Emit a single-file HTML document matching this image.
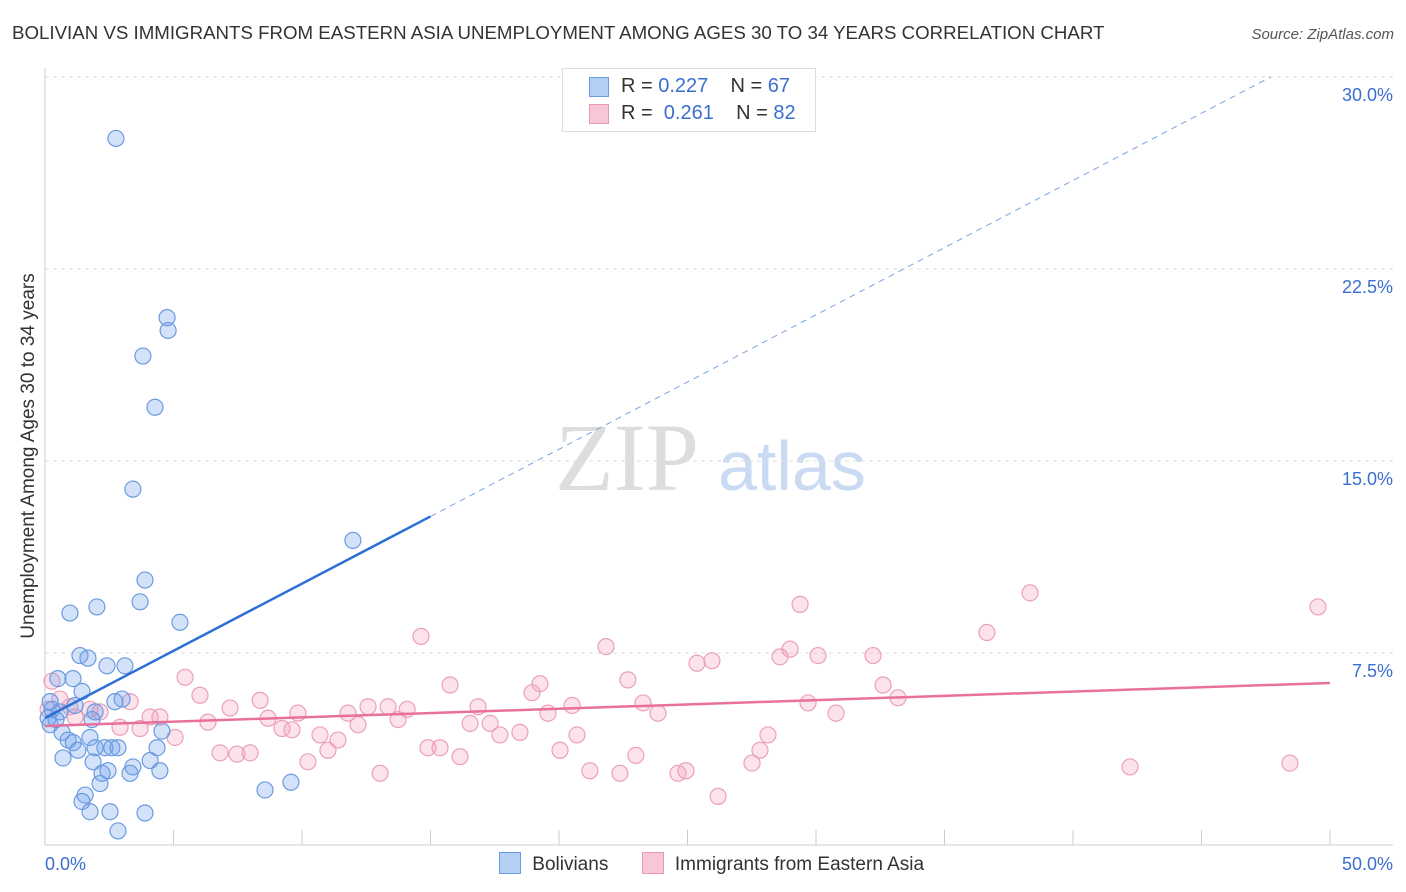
<!DOCTYPE html>
<html><head><meta charset="utf-8">
<style>
body{margin:0;background:#fff;font-family:"Liberation Sans",sans-serif;}
#wrap{position:relative;width:1406px;height:892px;overflow:hidden;}
</style></head>
<body>
<div id="wrap">
<svg id="svg" width="1406" height="892" xmlns="http://www.w3.org/2000/svg">
<text x="12" y="39" font-size="18.7" fill="#333">BOLIVIAN VS IMMIGRANTS FROM EASTERN ASIA UNEMPLOYMENT AMONG AGES 30 TO 34 YEARS CORRELATION CHART</text>
<text x="1394" y="39" font-size="15" fill="#555" font-style="italic" text-anchor="end">Source: ZipAtlas.com</text>
<text x="34" y="456" font-size="19" fill="#333" text-anchor="middle" transform="rotate(-90 34 456)">Unemployment Among Ages 30 to 34 years</text>
<text x="555" y="490" font-size="96" fill="#ddd" font-family="Liberation Serif">ZIP</text>
<text x="718" y="490" font-size="70" fill="#c9daf2">atlas</text>
<g id="grid"></g><g id="marks"></g>
</svg>
<div style="position:absolute;left:562px;top:68px;width:252px;height:62px;border:1px solid #ddd;background:#fff;font-size:20px;color:#333;">
 <div style="position:absolute;left:26px;top:8px;width:18px;height:18px;background:#b5cff5;border:1px solid #6a9be0;"></div>
 <div style="position:absolute;left:58px;top:6px;">R = <span style="color:#3a6fd0">0.227</span>&nbsp;&nbsp;&nbsp; N = <span style="color:#3a6fd0">67</span></div>
 <div style="position:absolute;left:26px;top:35px;width:18px;height:18px;background:#f8c7d6;border:1px solid #e89ab5;"></div>
 <div style="position:absolute;left:58px;top:33px;">R = &nbsp;<span style="color:#3a6fd0">0.261</span>&nbsp;&nbsp;&nbsp; N = <span style="color:#3a6fd0">82</span></div>
</div>
<div style="position:absolute;left:499px;top:852px;font-size:19px;color:#333;">
 <span style="display:inline-block;width:20px;height:20px;background:#b5cff5;border:1px solid #6a9be0;vertical-align:-4px"></span>
 <span style="margin-left:6px">Bolivians</span>
 <span style="display:inline-block;width:20px;height:20px;background:#f8c7d6;border:1px solid #e89ab5;vertical-align:-4px;margin-left:28px"></span>
 <span style="margin-left:6px">Immigrants from Eastern Asia</span>
</div>
</div>
<script>
const yTicks=[7.5,15,22.5,30];
const yTickLabels=["7.5%","15.0%","22.5%","30.0%"];
const xTicks=[0,5,10,15,20,25,30,35,40,45,50];
const blueX=[2.76,4.75,4.79,3.81,4.28,3.42,11.98,3.89,3.70,0.97,2.02,5.25,1.36,1.67,2.41,3.11,0.5,1.09,1.44,3.0,2.72,0.2,1.17,0.27,0.58,1.95,0.12,0.43,1.83,0.2,4.55,0.66,1.75,0.9,1.1,4.36,1.95,2.33,2.6,2.84,1.28,0.7,4.09,1.87,3.42,2.45,4.47,3.31,2.22,2.14,9.57,8.56,1.56,1.44,2.53,1.75,3.89,2.84];
const blueY=[27.6,20.6,20.1,19.1,17.1,13.9,11.9,10.35,9.5,9.06,9.3,8.7,7.4,7.3,7.0,7.0,6.5,6.5,6.0,5.7,5.6,5.6,5.45,5.3,5.2,5.2,4.96,4.9,4.9,4.7,4.45,4.4,4.2,4.1,4.0,3.8,3.8,3.8,3.8,3.8,3.7,3.4,3.3,3.25,3.05,2.9,2.9,2.8,2.8,2.4,2.45,2.15,1.95,1.7,1.3,1.3,1.25,0.55];
const pinkX=[0.27,0.58,0.97,0.12,1.75,2.14,1.17,3.31,4.09,4.47,2.92,3.7,5.06,5.45,6.03,6.34,6.81,7.2,7.47,7.98,8.37,8.68,9.22,9.61,9.84,10.23,10.7,11.01,11.4,11.79,12.18,12.57,13.04,13.35,13.74,14.09,14.63,14.9,15.37,15.76,16.15,16.54,16.85,17.32,17.7,18.48,18.95,19.26,19.57,20.04,20.51,20.7,21.2,21.83,22.37,22.68,22.99,23.27,23.85,24.63,24.94,25.37,25.95,26.19,27.51,27.82,28.13,28.6,28.99,29.38,29.69,30.08,30.78,32.22,32.61,33.19,36.65,38.33,42.22,48.44,49.53];
const pinkY=[6.4,5.7,5.4,5.3,5.3,5.2,5.0,5.6,5.0,5.0,4.6,4.55,4.2,6.55,5.85,4.8,3.6,5.35,3.55,3.6,5.65,4.95,4.55,4.5,5.15,3.25,4.3,3.7,4.1,5.15,4.7,5.4,2.8,5.4,4.9,5.3,8.15,3.8,3.8,6.25,3.45,4.75,5.4,4.75,4.3,4.4,5.95,6.3,5.15,3.7,5.45,4.3,2.9,7.75,2.8,6.45,3.5,5.55,5.15,2.8,2.9,7.1,7.2,1.9,3.2,3.7,4.3,7.35,7.65,9.4,5.55,7.4,5.15,7.4,6.25,5.75,8.3,9.85,3.05,3.2,9.3];
const blueTrend=[4.96,0.525];
const pinkTrend=[4.65,0.0336];
const sx=v=>45+v*25.7, sy=v=>845-v*25.6;
const NS="http://www.w3.org/2000/svg";
function mk(parent,tag,attrs){const e=document.createElementNS(NS,tag);for(const k in attrs)e.setAttribute(k,attrs[k]);parent.appendChild(e);return e;}
const grid=document.getElementById('grid'), marks=document.getElementById('marks');
yTicks.forEach((t,i)=>{
 const l=mk(grid,'line',{x1:45,x2:1393,y1:sy(t),y2:sy(t),stroke:'#ddd','stroke-dasharray':'4 4'});
 
 
 const tx=mk(grid,'text',{x:1393,y:sy(t)+24,'font-size':18,fill:'#3a6fd0','text-anchor':'end'});
 tx.textContent=yTickLabels[i];
 
 
});
const ax=mk(grid,'line',{x1:45,x2:1393,y1:845,y2:845,stroke:'#ccc'});


const ay=mk(grid,'line',{x1:45,x2:45,y1:68,y2:845,stroke:'#ccc'});


xTicks.forEach(t=>{
 const l=mk(grid,'line',{x1:sx(t),x2:sx(t),y1:830,y2:845,stroke:'#ccc'});
 
 
});
[[0,"0.0%",'start',45],[50,"50.0%",'end',1393]].forEach(a=>{
 const tx=mk(grid,'text',{x:a[3],y:870,'font-size':18,fill:'#3a6fd0','text-anchor':a[2]});
 tx.textContent=a[1];
 
 
});
function dots(X,Y,fill,stroke,name){X.forEach((x,i)=>{
 const c=mk(marks,'circle',{cx:sx(x),cy:sy(Y[i]),r:8,fill:fill,stroke:stroke,'stroke-width':1.2});
 
 
});}
dots(pinkX,pinkY,'rgba(244,160,190,0.3)','#eaa0bb','immigrants-point');
dots(blueX,blueY,'rgba(110,160,235,0.3)','#6a9be0','bolivians-point');
const bt=mk(marks,'line',{x1:sx(0),y1:sy(blueTrend[0]),x2:sx(15),y2:sy(blueTrend[0]+15*blueTrend[1]),stroke:'#2c6fd6','stroke-width':2.5});


const ye=30;
const xe=(ye-blueTrend[0])/blueTrend[1];
const bd=mk(marks,'line',{x1:sx(15),y1:sy(blueTrend[0]+15*blueTrend[1]),x2:sx(xe),y2:sy(ye),stroke:'#7aa3e0','stroke-width':1,'stroke-dasharray':'6 5'});


const pt=mk(marks,'line',{x1:sx(0),y1:sy(pinkTrend[0]),x2:sx(50),y2:sy(pinkTrend[0]+50*pinkTrend[1]),stroke:'#e8709a','stroke-width':2.5});


</script>
</body></html>
